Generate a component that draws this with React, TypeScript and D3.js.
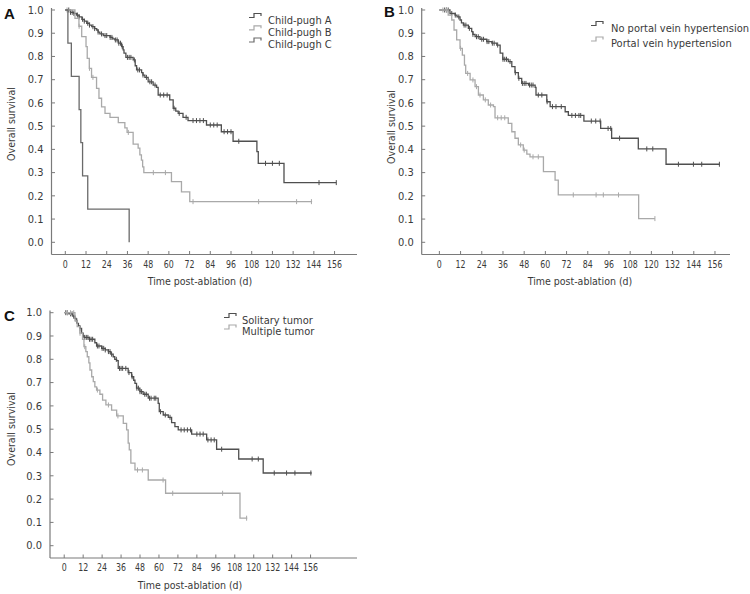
import React from "react";
import * as d3 from "d3";

// ---------------- DATA ----------------
const xTicks = [0, 12, 24, 36, 48, 60, 72, 84, 96, 108, 120, 132, 144, 156];
const yTicks = [0, 0.1, 0.2, 0.3, 0.4, 0.5, 0.6, 0.7, 0.8, 0.9, 1.0];

// Panel A: Child-pugh
const childAEvents: [number, number][] = [
  [3, 0.99], [5, 0.985], [6.6, 0.978], [8, 0.97], [9.6, 0.96], [11, 0.952], [12.4, 0.943], [14, 0.935],
  [15.3, 0.928], [17, 0.92], [18.2, 0.914], [19, 0.905], [20, 0.897], [22, 0.89], [25.9, 0.882], [27.5, 0.876],
  [28.7, 0.871], [30.7, 0.857], [32.6, 0.842], [33.5, 0.828], [34, 0.814], [35.1, 0.796], [39.3, 0.785],
  [40.5, 0.76], [41.3, 0.742], [44.2, 0.73], [45, 0.72], [46.1, 0.71], [48, 0.691], [50.9, 0.677], [52.9, 0.667],
  [53.8, 0.634], [60.5, 0.613], [62.5, 0.577], [64, 0.565], [65.4, 0.555], [68.2, 0.538], [71.1, 0.524],
  [81.8, 0.505], [90.4, 0.476], [97.2, 0.435], [111, 0.39], [111.8, 0.34], [126.7, 0.257],
];
const childAEnd = 157;
const childACensor = [2, 3, 4, 5, 7, 8, 10, 11, 13, 14, 16, 17, 19, 21, 23, 24, 26, 27, 29, 30, 31, 32, 33, 36, 37, 38,
  40, 42, 43, 45, 47, 49, 50, 52, 55, 57, 59, 63, 66, 70, 74, 76, 78, 80, 84, 86, 88, 92, 94, 96, 100.5, 116, 120, 124, 147, 157];

const childBEvents: [number, number][] = [
  [5.6, 0.964], [7.9, 0.93], [9.5, 0.885], [12, 0.842], [12.7, 0.792], [13.9, 0.749], [15.2, 0.71],
  [18.1, 0.663], [19.5, 0.62], [21, 0.583], [23, 0.555], [25.9, 0.538], [30.7, 0.515], [34.5, 0.493],
  [35.8, 0.473], [39.3, 0.423], [42.2, 0.405], [43.2, 0.376], [44.1, 0.354], [44.8, 0.325], [45.5, 0.3],
  [61.5, 0.261], [67.3, 0.217], [72.1, 0.175],
];
const childBEnd = 143;
const childBCensor = [1, 8, 14, 16, 36.5, 51, 58, 74, 112, 134, 142.6];

const childCEvents: [number, number][] = [
  [1.5, 0.857], [3.5, 0.714], [8, 0.571], [9, 0.429], [10, 0.286], [13, 0.143], [37, 0],
];
const childCEnd = 37;
const childCCensor: number[] = [];

// Panel B: portal vein hypertension
const noPvhEvents: [number, number][] = [
  [6, 0.985], [8.9, 0.978], [10, 0.97], [11.7, 0.957], [12.5, 0.945], [13.6, 0.935], [16.4, 0.921], [18.3, 0.907],
  [19, 0.895], [20.2, 0.885], [23, 0.874], [26.8, 0.864], [29.7, 0.857], [32.5, 0.849], [34.4, 0.814], [35.9, 0.788],
  [39, 0.778], [41, 0.756], [42.8, 0.73], [44.7, 0.706], [46.6, 0.684], [50.4, 0.677], [54.2, 0.667], [54.7, 0.634],
  [60.8, 0.605], [62.7, 0.584], [71.2, 0.562], [73, 0.546], [81.8, 0.522], [91.3, 0.49], [97.5, 0.448],
  [112.6, 0.402], [128.3, 0.336],
];
const noPvhEnd = 158.8;
const noPvhCensor = [3, 4, 5, 7, 9, 11, 14, 15, 17, 19, 21, 22, 24, 25, 27, 28, 30, 31, 33, 36, 37, 38, 40, 43, 45, 47,
  48, 49, 51, 52, 53, 56, 58, 61, 64, 66, 69, 75, 77, 79, 80, 86, 88.5, 91, 95.5, 97, 102, 117.4, 120.8, 135.3, 143.8, 148.5, 158.5];

const pvhEvents: [number, number][] = [
  [5, 0.978], [7, 0.957], [8.3, 0.914], [9.8, 0.871], [11.7, 0.835], [13, 0.806], [14.2, 0.763], [14.9, 0.727],
  [17.4, 0.699], [20.2, 0.67], [22.1, 0.634], [24.9, 0.613], [27.7, 0.591], [30.6, 0.584], [31.5, 0.536],
  [39, 0.512], [41, 0.476], [42.8, 0.448], [44.7, 0.419], [47.5, 0.397], [49.5, 0.38], [51.3, 0.368],
  [58.9, 0.304], [65.5, 0.268], [67.3, 0.204], [112.8, 0.102],
];
const pvhEnd = 122;
const pvhCensor = [2, 4, 12, 16, 19, 21, 23, 26, 29, 33, 35, 37, 46, 48, 53, 56, 75.8, 88.7, 92.8, 101.4, 122];

// Panel C: tumour number
const solitaryEvents: [number, number][] = [
  [3, 0.995], [5.5, 0.985], [6.8, 0.976], [7.5, 0.965], [8.2, 0.954], [9, 0.943], [9.9, 0.933], [11, 0.912],
  [12, 0.9], [12.5, 0.894], [15.8, 0.886], [19.4, 0.871], [20.5, 0.857], [23.7, 0.847], [26, 0.84], [27.9, 0.833],
  [29.5, 0.822], [31, 0.811], [32, 0.8], [33.2, 0.794], [34.2, 0.761], [40.5, 0.743], [42.7, 0.725], [44, 0.71],
  [44.8, 0.697], [45.8, 0.676], [47.9, 0.661], [50, 0.65], [53.2, 0.633], [59.5, 0.611], [60.2, 0.575],
  [62.7, 0.561], [65.9, 0.551], [68, 0.528], [70.1, 0.511], [72.2, 0.497], [80.7, 0.479], [90.2, 0.454],
  [96.5, 0.414], [110.5, 0.372], [126, 0.312],
];
const solitaryEnd = 156.7;
const solitaryCensor = [1, 2, 4, 5, 6, 8, 10, 13, 14, 15, 16, 17, 18, 21, 22, 24, 25, 26, 28, 29, 30, 33, 35, 36, 37, 39,
  41, 43, 46, 47, 48, 49, 51, 52, 54, 55, 57, 58, 61, 64, 67, 74, 76, 78, 80, 84, 86, 88, 91, 93, 95, 99.7, 119, 122.9,
  133, 140.8, 146.1, 156.2];

const multipleEvents: [number, number][] = [
  [6.8, 0.965], [8.2, 0.94], [9.9, 0.912], [11.6, 0.886], [12.5, 0.854], [13.7, 0.833], [14.6, 0.811], [15.6, 0.785],
  [16.3, 0.754], [17.4, 0.725], [18.4, 0.704], [19.4, 0.682], [20.5, 0.668], [22.6, 0.65], [24.3, 0.625],
  [26.4, 0.604], [30, 0.582], [33.2, 0.557], [37.4, 0.525], [39.5, 0.497], [40.5, 0.44], [41.2, 0.411],
  [42.2, 0.354], [44.8, 0.325], [53.2, 0.282], [64.2, 0.225], [111.3, 0.118],
];
const multipleEnd = 115.9;
const multipleCensor = [2, 4, 6, 10, 13, 21, 28, 34, 46.4, 49.5, 62.6, 68.7, 100.3, 115.5];

const legendA = ["Child-pugh A", "Child-pugh B", "Child-pugh C"];
const legendB = ["No portal vein hypertension", "Portal vein hypertension"];
const legendC = ["Solitary tumor", "Multiple tumor"];

// ---------------- STYLE ----------------
const DARK = "#4f4f4f";
const LIGHT = "#a9a9a9";
const MID = "#6a6a6a";
const AXIS = "#7a7a7a";
const TEXT = "#3a3a3a";
const FONT = "'DejaVu Sans Condensed', 'Liberation Sans', sans-serif";

type Curve = { events: [number, number][]; end: number; censor: number[]; color: string };

function survAt(events: [number, number][], t: number) {
  let s = 1;
  for (const [et, es] of events) if (et <= t) s = es;
  return s;
}

type PanelProps = {
  letter: string;
  letterX: number;
  letterY: number;
  xRange: [number, number];
  xDomain: [number, number];
  yRange: [number, number];
  yDomain: [number, number];
  curves: Curve[];
  legend: string[];
  legendColors: string[];
  legendSymX: number;
  legendTextX: number;
  legendBase: number[];
  yTitleX: number;
  yTitleY: number;
  xTitleX: number;
};

function Panel(p: PanelProps) {
  const x = d3.scaleLinear().domain(p.xDomain).range(p.xRange);
  const y = d3.scaleLinear().domain(p.yDomain).range(p.yRange);
  const line = d3
    .line<[number, number]>()
    .x((d) => x(d[0]))
    .y((d) => y(d[1]))
    .curve(d3.curveStepAfter);
  const axisY = p.yRange[0];
  const axisX = p.xRange[0];
  return (
    <g>
      <text x={p.letterX} y={p.letterY} fontFamily="'Liberation Sans', Arial, sans-serif" fontWeight="bold" fontSize={15} fill="#111">
        {p.letter}
      </text>
      {/* axes */}
      <line x1={axisX} x2={axisX} y1={p.yRange[1]} y2={axisY} stroke={AXIS} strokeWidth={1.2} />
      <line x1={axisX} x2={p.xRange[1]} y1={axisY} y2={axisY} stroke={AXIS} strokeWidth={1.2} />
      {yTicks.map((t) => (
        <g key={"y" + t}>
          <line x1={axisX} x2={axisX + 3.5} y1={y(t)} y2={y(t)} stroke={AXIS} strokeWidth={1} />
          <text x={axisX - 8} y={y(t) + 3.8} textAnchor="end" fontFamily={FONT} fontSize={11} fill={TEXT}>
            {t.toFixed(1)}
          </text>
        </g>
      ))}
      {xTicks.map((t) => (
        <g key={"x" + t}>
          <line x1={x(t)} x2={x(t)} y1={axisY} y2={axisY - 3.5} stroke={AXIS} strokeWidth={1} />
          <text
            x={x(t)}
            y={axisY + 13}
            textAnchor="middle"
            fontFamily={FONT}
            fontSize={10}
            fill={TEXT}
            textLength={String(t).length * 5}
            lengthAdjust="spacingAndGlyphs"
          >
            {t}
          </text>
        </g>
      ))}
      <text x={p.xTitleX} y={axisY + 30.5} textAnchor="middle" fontFamily={FONT} fontSize={10.5} fill={TEXT}>
        Time post-ablation (d)
      </text>
      <text
        transform={`translate(${p.yTitleX},${p.yTitleY}) rotate(-90)`}
        textAnchor="middle"
        fontFamily={FONT}
        fontSize={10.5}
        fill={TEXT}
      >
        Overall survival
      </text>
      {/* curves */}
      {p.curves.map((c, i) => {
        const pts: [number, number][] = [[0, 1], ...c.events];
        const last = pts[pts.length - 1];
        if (c.end > last[0]) pts.push([c.end, last[1]]);
        return (
          <g key={"c" + i}>
            <path d={line(pts) || ""} fill="none" stroke={c.color} strokeWidth={1.3} />
            {c.censor.map((t, j) => (
              <line
                key={j}
                x1={x(t)}
                x2={x(t)}
                y1={y(survAt(c.events, t)) - 2.5}
                y2={y(survAt(c.events, t)) + 2.5}
                stroke={c.color}
                strokeWidth={1}
              />
            ))}
          </g>
        );
      })}
      {/* legend */}
      {p.legend.map((lab, i) => {
        const b = p.legendBase[i];
        const sx = p.legendSymX;
        return (
          <g key={"l" + i}>
            <path
              d={`M${sx},${b - 6} H${sx + 5} V${b - 10} H${sx + 12} V${b - 7.5}`}
              fill="none"
              stroke={p.legendColors[i]}
              strokeWidth={1.2}
            />
            <text x={p.legendTextX} y={b} fontFamily={FONT} fontSize={11} fill={TEXT}>
              {lab}
            </text>
          </g>
        );
      })}
    </g>
  );
}

export default function App() {
  return (
    <svg width={750} height={594} style={{ position: "absolute", left: 0, top: 0, background: "#fff" }}>
      <rect width={750} height={594} fill="#fff" />
      <Panel
        letter="A"
        letterX={4}
        letterY={19}
        xRange={[51.5, 357]}
        xDomain={[-8, 169]}
        yRange={[254.5, 8]}
        yDomain={[-0.0525, 1.0086]}
        curves={[
          { events: childAEvents, end: childAEnd, censor: childACensor, color: DARK },
          { events: childBEvents, end: childBEnd, censor: childBCensor, color: LIGHT },
          { events: childCEvents, end: childCEnd, censor: childCCensor, color: MID },
        ]}
        legend={legendA}
        legendColors={[DARK, LIGHT, MID]}
        legendSymX={249}
        legendTextX={268}
        legendBase={[23.5, 35.8, 48]}
        yTitleX={15}
        yTitleY={124}
        xTitleX={200}
      />
      <Panel
        letter="B"
        letterX={384}
        letterY={17}
        xRange={[421.7, 730]}
        xDomain={[-10, 164.5]}
        yRange={[254.5, 8]}
        yDomain={[-0.0525, 1.0086]}
        curves={[
          { events: noPvhEvents, end: noPvhEnd, censor: noPvhCensor, color: DARK },
          { events: pvhEvents, end: pvhEnd, censor: pvhCensor, color: LIGHT },
        ]}
        legend={legendB}
        legendColors={[DARK, LIGHT]}
        legendSymX={591}
        legendTextX={611}
        legendBase={[31.5, 47]}
        yTitleX={395}
        yTitleY={127}
        xTitleX={580}
      />
      <Panel
        letter="C"
        letterX={4}
        letterY={321}
        xRange={[50, 357]}
        xDomain={[-9, 185.4]}
        yRange={[558, 310.5]}
        yDomain={[-0.0528, 1.0094]}
        curves={[
          { events: solitaryEvents, end: solitaryEnd, censor: solitaryCensor, color: DARK },
          { events: multipleEvents, end: multipleEnd, censor: multipleCensor, color: LIGHT },
        ]}
        legend={legendC}
        legendColors={[DARK, LIGHT]}
        legendSymX={224}
        legendTextX={242}
        legendBase={[323.5, 335]}
        yTitleX={15}
        yTitleY={429}
        xTitleX={190}
      />
    </svg>
  );
}
